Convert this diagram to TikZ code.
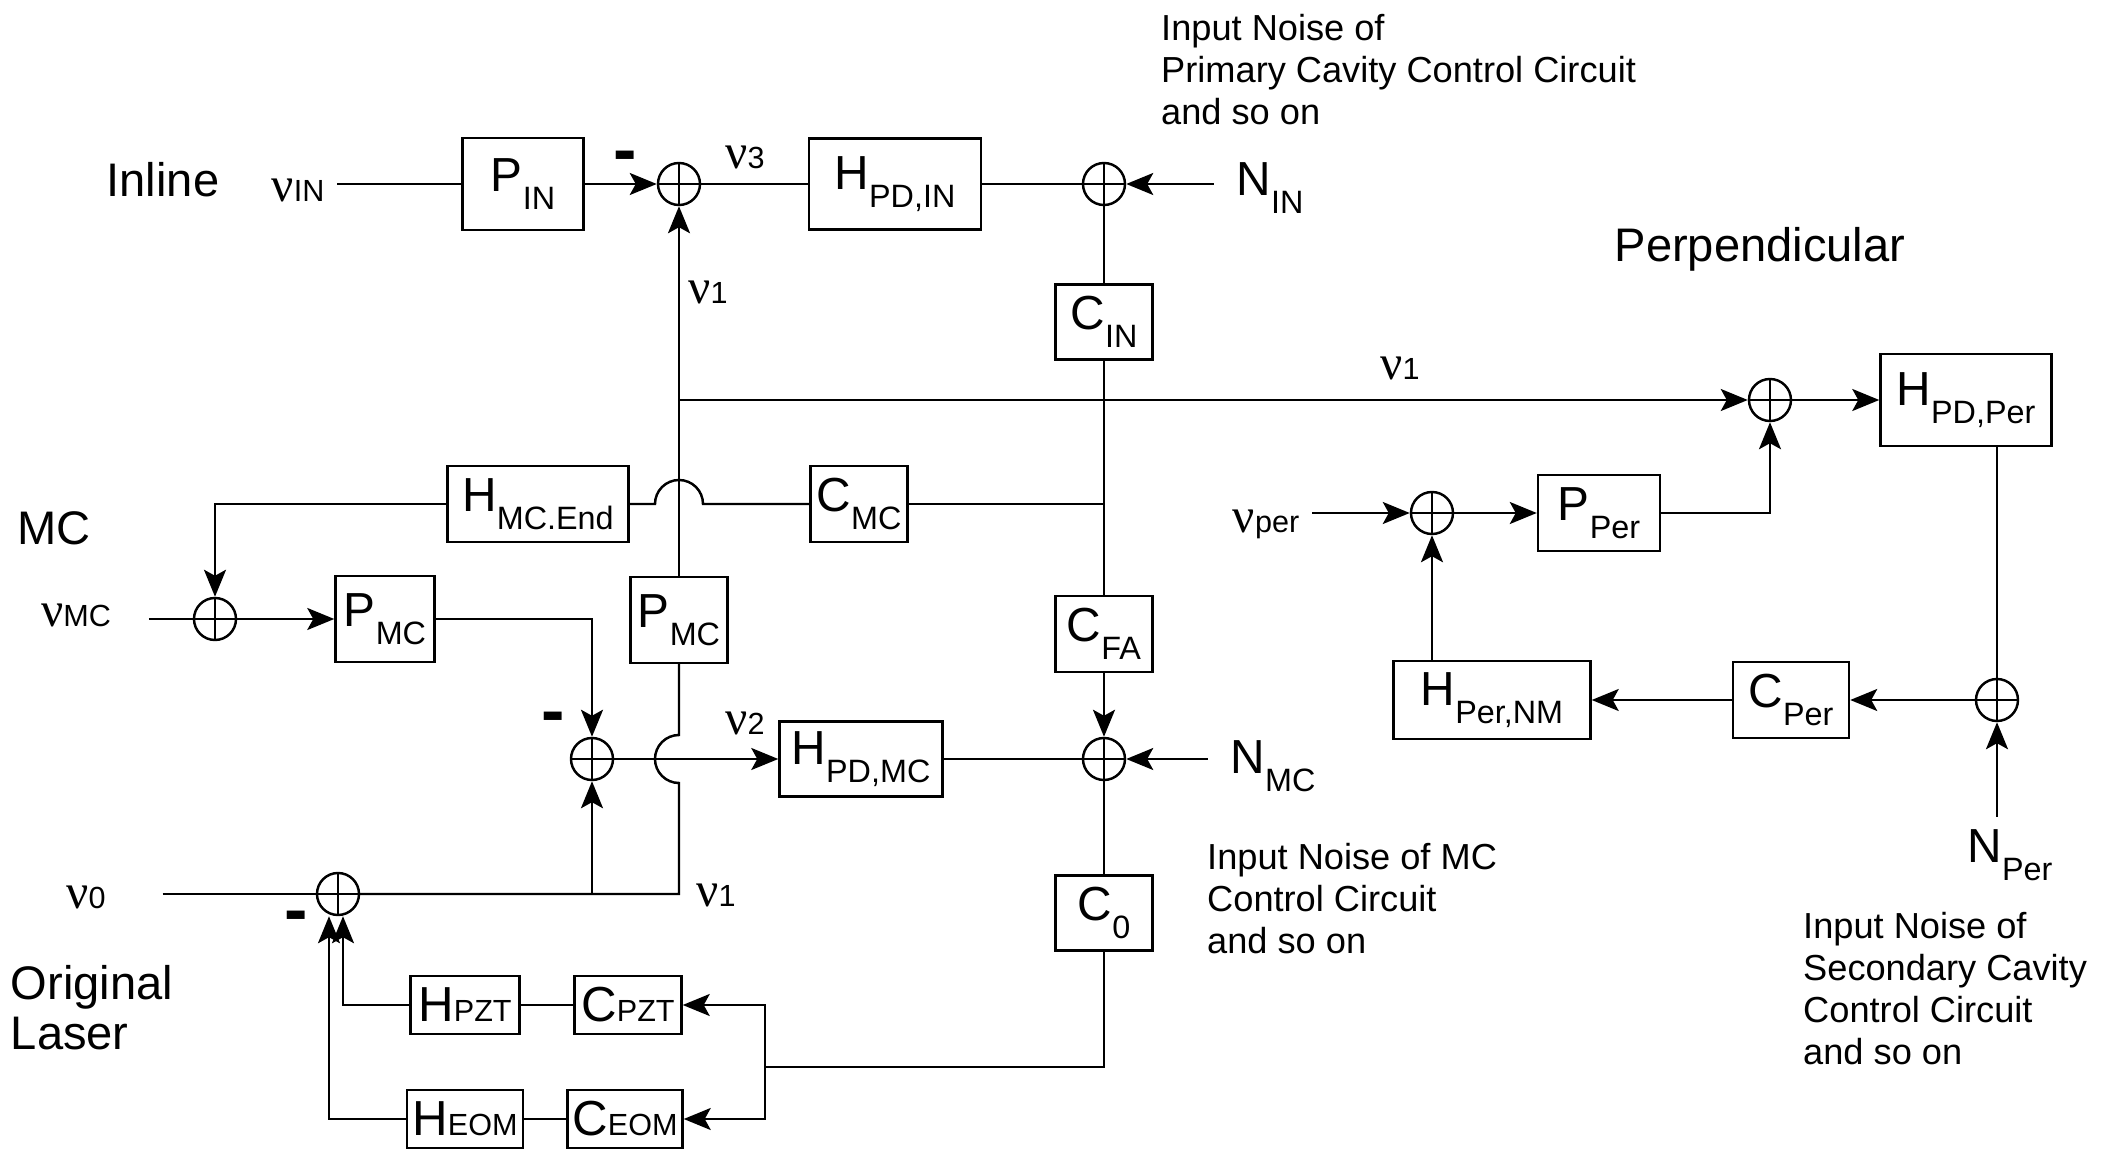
\documentclass[tikz,border=0pt]{standalone}
\usepackage{fontspec}
\setmainfont{Liberation Sans}
\newfontfamily\nufont{Liberation Serif}
\usetikzlibrary{positioning, arrows.meta}

\newcommand{\nulab}[1]{{\nufont\fontsize{14}{14}\selectfont ν}{\fontsize{8.7}{9}\selectfont #1}}
\newcommand{\blab}[2]{{\fontsize{13.6}{13.6}\selectfont #1}\raisebox{-5pt}{\fontsize{9.2}{9.5}\selectfont #2}}
\newcommand{\slab}[2]{{\fontsize{14}{14}\selectfont #1}{\fontsize{8.7}{9}\selectfont #2}}

\tikzset{
	blk/.style={draw, line width=0.7pt, inner sep=0pt},
	sumnode/.style={circle, draw, line width=0.7pt, minimum size=0.42cm, inner sep=0pt,
		path picture={\draw[line width=0.7pt] (path picture bounding box.north) -- (path picture bounding box.south)
			(path picture bounding box.west) -- (path picture bounding box.east);}},
	title/.style={font=\fontsize{13.4}{14.2}\selectfont, align=left, inner sep=0pt},
	note/.style={font=\fontsize{10.3}{11.95}\selectfont, align=left, inner sep=0pt, anchor=north west},
	sign/.style={font=\fontsize{20}{20}\selectfont\bfseries, inner sep=0pt},
}

\begin{document}
\begin{tikzpicture}[line width=0.7pt, >={Stealth[length=2.7mm,width=2.2mm,inset=0.6mm]}]
	\useasboundingbox (0,0) rectangle (21.06,-11.49);

	% inline
	\node (inl) at (1.63,-1.80) [title] {Inline};
	\node (vin) at (2.98,-1.90) {\nulab{IN}};
	\node (pin) at (5.23,-1.84) [blk, minimum width=1.21cm, minimum height=0.92cm] {\blab{P}{IN}};
	\node (sum1) at (6.79,-1.84) [sumnode] {};
	\node (nu3) at (7.45,-1.57) {\nulab{3}};
	\node (hpdin) at (8.95,-1.84) [blk, minimum width=1.72cm, minimum height=0.91cm] {\blab{H}{PD,IN}};
	\node (sum2) at (11.04,-1.84) [sumnode] {};
	\node (ntin) at (12.70,-1.88) {\blab{N}{IN}};
	\node (nin) at (11.60,-0.13) [note] {Input Noise of\\Primary Cavity Control Circuit\\and so on};
	\node (cin) at (11.04,-3.22) [blk, minimum width=0.97cm, minimum height=0.75cm] {\blab{C}{IN}};
	\node (nu1a) at (7.08,-2.92) {\nulab{1}};

	% perpendicular
	\node (perp) at (17.60,-2.49) [title] {Perpendicular};
	\node (nu1b) at (14.00,-3.68) {\nulab{1}};
	\node (sum3) at (17.70,-4.00) [sumnode] {};
	\node (hpdper) at (19.66,-4.00) [blk, minimum width=1.71cm, minimum height=0.92cm] {\blab{H}{PD,Per}};
	\node (vper) at (12.66,-5.24) {\nulab{per}};
	\node (sum8) at (14.32,-5.13) [sumnode] {};
	\node (pper) at (15.99,-5.13) [blk, minimum width=1.22cm, minimum height=0.76cm] {\blab{P}{Per}};
	\node (hpernm) at (14.92,-7.00) [blk, minimum width=1.97cm, minimum height=0.78cm] {\blab{H}{Per,NM}};
	\node (cper) at (17.91,-7.00) [blk, minimum width=1.16cm, minimum height=0.76cm] {\blab{C}{Per}};
	\node (sum9) at (19.97,-7.00) [sumnode] {};
	\node (ntper) at (20.10,-8.55) {\blab{N}{Per}};
	\node (npert) at (18.02,-9.11) [note] {Input Noise of\\Secondary Cavity\\Control Circuit\\and so on};

	% MC
	\node (mct) at (0.54,-5.28) [title] {MC};
	\node (hmcend) at (5.38,-5.04) [blk, minimum width=1.81cm, minimum height=0.76cm] {\blab{H}{MC.End}};
	\node (cmc) at (8.59,-5.04) [blk, minimum width=0.97cm, minimum height=0.76cm] {\blab{C}{MC}};
	\node (vmc) at (0.76,-6.15) {\nulab{MC}};
	\node (sum4) at (2.15,-6.19) [sumnode] {};
	\node (pmcl) at (3.85,-6.19) [blk, minimum width=0.99cm, minimum height=0.86cm] {\blab{P}{MC}};
	\node (pmcm) at (6.79,-6.20) [blk, minimum width=0.97cm, minimum height=0.86cm] {\blab{P}{MC}};
	\node (cfa) at (11.04,-6.34) [blk, minimum width=0.97cm, minimum height=0.76cm] {\blab{C}{FA}};
	\node (sum5) at (5.92,-7.59) [sumnode] {};
	\node (nu2) at (7.45,-7.23) {\nulab{2}};
	\node (hpdmc) at (8.61,-7.59) [blk, minimum width=1.63cm, minimum height=0.75cm] {\blab{H}{PD,MC}};
	\node (sum7) at (11.04,-7.59) [sumnode] {};
	\node (ntmc) at (12.73,-7.66) {\blab{N}{MC}};
	\node (nmct) at (12.06,-8.42) [note] {Input Noise of MC\\Control Circuit\\and so on};
	\node (c0) at (11.04,-9.13) [blk, minimum width=0.97cm, minimum height=0.75cm] {\blab{C}{0}};

	% original laser
	\node (v0) at (0.86,-8.97) {\nulab{0}};
	\node (sum6) at (3.38,-8.94) [sumnode] {};
	\node (nu1c) at (7.16,-8.95) {\nulab{1}};
	\node (orig) at (0.92,-10.08) [title] {Original\\Laser};
	\node (hpzt) at (4.65,-10.05) [blk, minimum width=1.09cm, minimum height=0.58cm] {\slab{H}{PZT}};
	\node (cpzt) at (6.28,-10.05) [blk, minimum width=1.07cm, minimum height=0.58cm] {\slab{C}{PZT}};
	\node (heom) at (4.65,-11.19) [blk, minimum width=1.16cm, minimum height=0.58cm] {\slab{H}{EOM}};
	\node (ceom) at (6.25,-11.19) [blk, minimum width=1.15cm, minimum height=0.58cm] {\slab{C}{EOM}};

	% signs
	\node (neg1) at (6.25,-1.62) [sign] {-};
	\node (neg5) at (5.53,-7.23) [sign] {-};
	\node (neg6) at (2.96,-9.22) [sign] {-};

	\coordinate (split) at (7.65,-10.67);
	\coordinate (bot) at (pmcm |- sum6);
	\coordinate (hopa) at (pmcm |- cmc);
	\coordinate (hopb) at (pmcm |- sum5);

	% inline loop
	\draw (vin.east |- pin) -- (pin);
	\path[->] (pin) edge (sum1);
	\draw (sum1) -- (hpdin) (hpdin) -- (sum2);
	\path[->] ([xshift=-1mm]ntin.west |- sum2) edge (sum2);
	\draw (sum2) -- (cin) (cin) -- (cfa);
	\path[->] (cfa) edge (sum7);
	\path[->] ([xshift=-1mm]ntmc.west |- sum7) edge (sum7);
	\draw (hpdmc) -- (sum7) (sum7) -- (c0);
	\draw (c0) |- (split);
	\draw[->] (split) |- (cpzt);
	\draw[->] (split) |- (ceom);
	\draw (cpzt) -- (hpzt) (ceom) -- (heom);
	\draw[->] (hpzt) -| ([xshift=0.5mm]sum6.south);
	\draw[->] (heom) -| ([xshift=-0.9mm]sum6.south);

	% laser and MC
	\draw ([xshift=4.4mm]v0.east |- sum6) -- (sum6);
	\draw (sum6) -- (bot) -- ([yshift=-2.4mm]hopb) arc[start angle=270, end angle=90, radius=2.4mm] -- (pmcm);
	\draw[->] (bot -| sum5) -- (sum5);
	\path[->] (sum5) edge (hpdmc);
	\draw[->] (pmcl) -| (sum5);
	\draw ([xshift=2.5mm]vmc.east |- sum4) -- (sum4);
	\path[->] (sum4) edge (pmcl);
	\draw[->] (hmcend) -| (sum4);
	\draw (cmc) -- (cmc -| cin);
	\draw (cmc) -- ([xshift=2.4mm]hopa) arc[start angle=0, end angle=180, radius=2.4mm] -- (hmcend);
	\path[->] (pmcm) edge (sum1);

	% perpendicular loop
	\draw[->] (pmcm |- sum3) -- (sum3);
	\path[->] (sum3) edge (hpdper);
	\draw (hpdper.south -| sum9) -- (sum9);
	\path[->] (ntper.north -| sum9) edge (sum9);
	\path[->] (sum9) edge (cper);
	\path[->] (cper) edge (hpernm);
	\path[->] (hpernm.north -| sum8) edge (sum8);
	\path[->] (vper.east |- sum8) edge (sum8);
	\path[->] (sum8) edge (pper);
	\draw[->] (pper) -| (sum3);
\end{tikzpicture}
\end{document}
